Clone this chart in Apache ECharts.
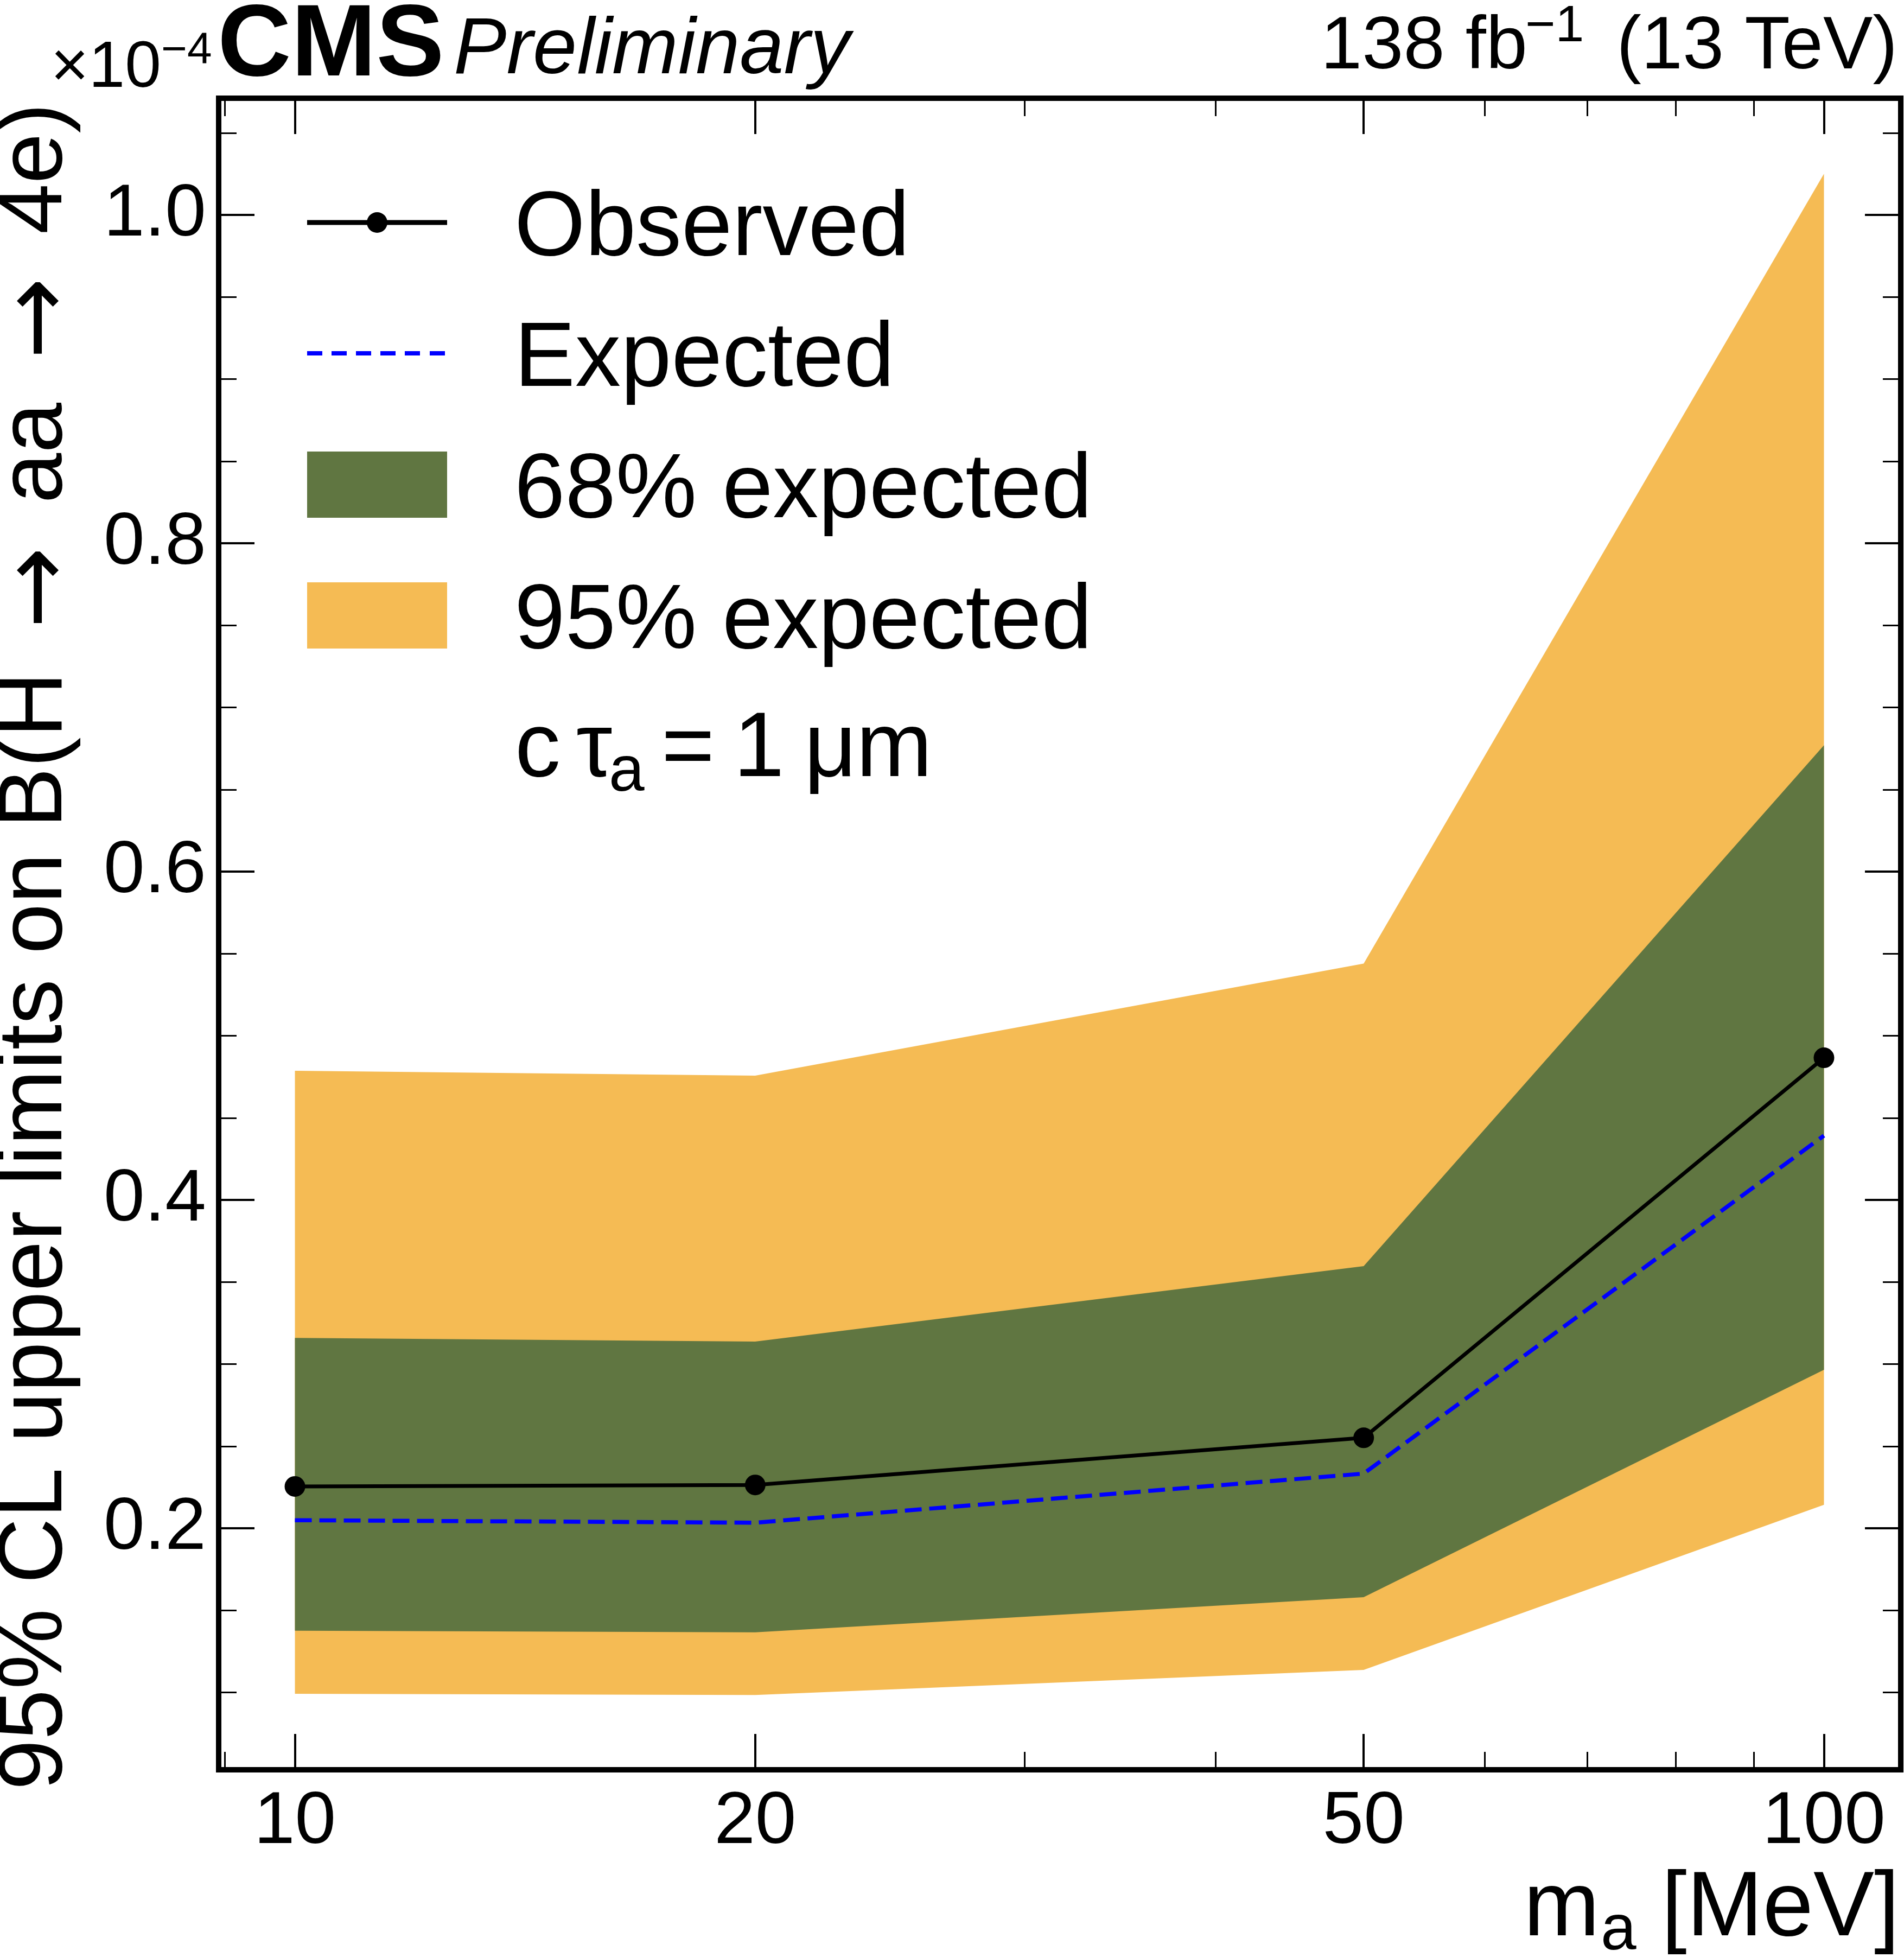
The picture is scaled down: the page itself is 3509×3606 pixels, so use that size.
<!DOCTYPE html>
<html>
<head>
<meta charset="utf-8">
<title>CMS Preliminary - 95% CL upper limits</title>
<script src="https://cdn.jsdelivr.net/npm/echarts@6.0.0/dist/echarts.min.js"></script>
<style>
html, body { margin: 0; padding: 0; background: #ffffff; }
#chart { width: 3509px; height: 3606px; }
</style>
</head>
<body>
<div id="chart"></div>
<script>
// ---------------- data ----------------
const massValues    = [10, 20, 50, 100];               // m_a [MeV]
const observedLimit = [0.2255, 0.2264, 0.2551, 0.4866]; // x 1e-4
const expectedLimit = [0.2049, 0.2034, 0.2333, 0.4392];
const band68Low     = [0.1376, 0.1366, 0.1580, 0.2965];
const band68High    = [0.3160, 0.3137, 0.3597, 0.6770];
const band95Low     = [0.0992, 0.0984, 0.1137, 0.2143];
const band95High    = [0.4787, 0.4757, 0.5440, 1.0251];

const xMajorTicks = [10, 20, 50, 100];
const xMinorTicks = [9, 30, 40, 60, 70, 80, 90];
const yMajorTicks = [0.2, 0.4, 0.6, 0.8, 1.0];
const yMinorTicks = [0.1, 0.15, 0.25, 0.3, 0.35, 0.45, 0.5, 0.55, 0.65, 0.7, 0.75, 0.85, 0.9, 0.95, 1.05];
const xRange = [8.915, 112.26];
const yRange = [0.0529, 1.0711];

// ---------------- styling ----------------
const FONT = 'Liberation Sans';
const GREEN = '#607641';
const YELLOW = '#F5BB54';
const BLUE = '#0000FF';

const lx = v => Math.log10(v);

function xHelper(pos, ticks, len, width, withLabels) {
  return {
    type: 'value', position: pos,
    min: lx(xRange[0]), max: lx(xRange[1]),
    axisLine: { show: false, onZero: false },
    splitLine: { show: false },
    axisTick: { show: true, inside: true, length: len, customValues: ticks.map(lx),
                lineStyle: { color: '#000', width: width } },
    axisLabel: withLabels ? {
      show: true, customValues: ticks.map(lx), margin: 29,
      fontSize: 136, fontFamily: FONT, color: '#000',
      formatter: v => String(Math.round(Math.pow(10, v)))
    } : { show: false }
  };
}

function yHelper(pos, ticks, len, width, withLabels) {
  return {
    type: 'value', position: pos,
    min: yRange[0], max: yRange[1],
    axisLine: { show: false, onZero: false },
    splitLine: { show: false },
    axisTick: { show: true, inside: true, length: len, customValues: ticks,
                lineStyle: { color: '#000', width: width } },
    axisLabel: withLabels ? {
      show: true, customValues: ticks, margin: 23,
      fontSize: 136, fontFamily: FONT, color: '#000',
      formatter: v => v.toFixed(1)
    } : { show: false }
  };
}

const pts = ys => massValues.map((m, i) => [m, ys[i]]);

// filled band between two edges, drawn as one polygon through the cartesian scales
function bandSeries(name, lo, hi, color, z) {
  return {
    name: name, type: 'custom', coordinateSystem: 'cartesian2d',
    xAxisIndex: 0, yAxisIndex: 0,
    data: massValues.map((m, i) => [m, lo[i], hi[i]]),
    encode: { x: 0, y: [1, 2] },
    itemStyle: { color: color },
    silent: true, z: z, clip: true,
    renderItem: function (params, api) {
      if (params.dataIndex !== 0) return null;
      const upper = massValues.map((m, i) => api.coord([m, hi[i]]));
      const lower = massValues.map((m, i) => api.coord([m, lo[i]])).reverse();
      return { type: 'polygon', shape: { points: upper.concat(lower) }, style: { fill: color } };
    }
  };
}

function txt(text, x, y, size, opts) {
  opts = opts || {};
  const el = {
    type: 'text', x: x, y: y, silent: true, z: 100,
    style: {
      text: text, fontSize: size, fontFamily: FONT, fill: '#000',
      fontWeight: opts.weight || 'normal', fontStyle: opts.style || 'normal',
      align: opts.align || 'left', verticalAlign: 'middle'
    }
  };
  if (opts.rich) el.style.rich = opts.rich;
  if (opts.rotation) el.rotation = opts.rotation;
  return el;
}

// legend icons (the text sits a little below the icon centre, as in the reference)
const ICON_OBSERVED = 'path://M0,0L0,0M258,76L258,76M0,19.5H258V28.5H0Z' +
                      'M110,24A19,19,0,1,1,148,24A19,19,0,1,1,110,24Z';
const ICON_EXPECTED = 'path://M0,0L0,0M258,40L258,40' +
                      'M0,2h28v8h-28zM45,2h28v8h-28zM90,2h28v8h-28z' +
                      'M135,2h28v8h-28zM180,2h28v8h-28zM226,2h28v8h-28z';
const ICON_BAND = 'path://M0,0H258V122H0ZM258,150L258,150';

const legendText = { fontSize: 168, fontFamily: FONT, color: '#000', padding: [0, 0, 0, 119] };

const option = {
  animation: false,
  backgroundColor: '#ffffff',
  textStyle: { fontFamily: FONT },
  grid: {
    left: 403, top: 181, width: 3100, height: 3080,
    show: true, borderColor: '#000', borderWidth: 10, backgroundColor: 'transparent',
    containLabel: false, outerBoundsMode: 'none'
  },
  xAxis: [
    { type: 'log', logBase: 10, min: xRange[0], max: xRange[1], show: false,
      axisLine: { show: false, onZero: false }, splitLine: { show: false } },
    xHelper('bottom', xMajorTicks, 66, 4, true),
    xHelper('bottom', xMinorTicks, 33, 3, false),
    xHelper('top', xMajorTicks, 66, 4, false),
    xHelper('top', xMinorTicks, 33, 3, false)
  ],
  yAxis: [
    yHelper('left', yMajorTicks, 66, 4, true),
    yHelper('left', yMinorTicks, 33, 3, false),
    yHelper('right', yMajorTicks, 66, 4, false),
    yHelper('right', yMinorTicks, 33, 3, false)
  ],
  legend: [
    { data: [{ name: 'Observed', icon: ICON_OBSERVED }], orient: 'vertical', left: 566, top: 340,
      padding: 0, itemWidth: 258, itemHeight: 76, selectedMode: false, textStyle: legendText,
      itemStyle: { borderWidth: 0 } },
    { data: [{ name: 'Expected', icon: ICON_EXPECTED }], orient: 'vertical', left: 566, top: 581,
      padding: 0, itemWidth: 258, itemHeight: 40, selectedMode: false, textStyle: legendText,
      itemStyle: { borderWidth: 0 } },
    { data: [{ name: '68% expected', icon: ICON_BAND }, { name: '95% expected', icon: ICON_BAND }],
      orient: 'vertical', left: 566, top: 823, padding: 0, itemGap: 73,
      itemWidth: 258, itemHeight: 150, selectedMode: false, textStyle: legendText,
      itemStyle: { borderWidth: 0 } }
  ],
  series: [
    bandSeries('95% expected', band95Low, band95High, YELLOW, 1),
    bandSeries('68% expected', band68Low, band68High, GREEN, 2),
    { name: 'Expected', type: 'line', data: pts(expectedLimit), symbol: 'none',
      lineStyle: { color: BLUE, width: 7.5, type: [31, 14] }, itemStyle: { color: BLUE }, z: 3 },
    { name: 'Observed', type: 'line', data: pts(observedLimit), symbol: 'circle', symbolSize: 38,
      lineStyle: { color: '#000', width: 7 }, itemStyle: { color: '#000' }, z: 4 }
  ],
  graphic: [
    txt('CMS', 401, 87, 188, { weight: 'bold' }),
    txt('Preliminary', 836, 94, 146, { style: 'italic' }),
    txt('\u00D710', 297, 127, 120, { align: 'right' }),
    txt('\u22124', 297, 94, 82),
    txt('138 fb', 2815, 88, 137, { align: 'right' }),
    txt('\u22121', 2811, 50, 95),
    txt('(13 TeV)', 3497, 88, 137, { align: 'right' }),
    txt('95% CL upper limits on B(H \u2009{ar|\u2192} \u2009aa \u2009{ar|\u2192} \u20094e)', 67, 190, 167,
        { align: 'right', rotation: Math.PI / 2,
          rich: { ar: { fontFamily: 'DejaVu Sans', fontSize: 180, padding: [24, 0, 0, 0] } } }),
    txt('m', 2808, 3520, 168),
    txt('a', 2950, 3559, 118),
    txt('[MeV]', 3062, 3520, 168),
    txt('c', 949, 1384, 168),
    txt('\u03C4', 1062, 1384, 168),
    txt('a', 1122, 1424, 118),
    txt('=', 1219, 1384, 168),
    txt('1', 1352, 1384, 168),
    txt('\u03BC', 1482, 1384, 168),
    txt('m', 1578, 1384, 168)
  ]
};

const chart = echarts.init(document.getElementById('chart'), null, { renderer: 'canvas' });
chart.setOption(option);
</script>
</body>
</html>
